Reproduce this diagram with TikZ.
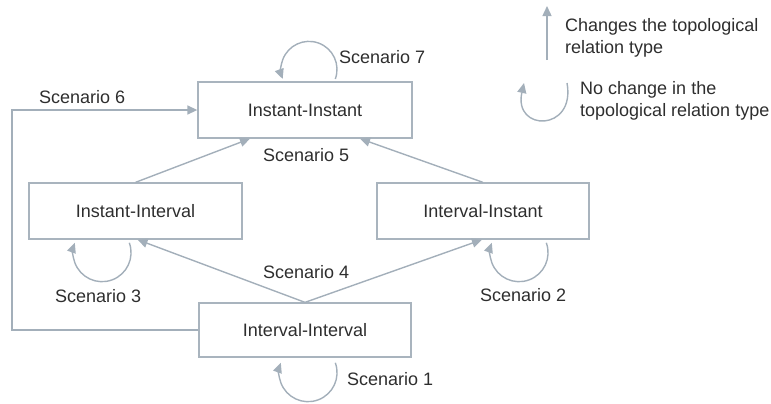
\documentclass[tikz,border=0pt]{standalone}
\usepackage{fontspec}
\setmainfont{Liberation Sans}
\usetikzlibrary{arrows.meta}
\definecolor{linec}{HTML}{A3AFBA}
\definecolor{boxc}{HTML}{A9B4BE}
\definecolor{txtc}{HTML}{2E2E2E}
\begin{document}
\begin{tikzpicture}[x=1bp,y=1bp,
  every node/.style={text=txtc,font=\fontsize{18bp}{22bp}\selectfont},
  statebox/.style={draw=boxc,line width=1.3bp,inner sep=0pt},
  arr/.style={draw=linec,line width=1.4bp,-{Triangle[length=10bp,width=9bp]}},
  lbl/.style={anchor=west,inner sep=0pt},
  legtext/.style={anchor=west,inner sep=0pt,align=left}]
\path[use as bounding box] (0,0) rectangle (771,-403);

\node[statebox,minimum width=214bp,minimum height=56bp] (II) at (305,-110) {Instant-Instant};
\node[statebox,minimum width=213bp,minimum height=56bp] (IInt) at (135.5,-211) {Instant-Interval};
\node[statebox,minimum width=212bp,minimum height=56bp] (IntI) at (483,-211) {Interval-Instant};
\node[statebox,minimum width=212bp,minimum height=54bp] (IntInt) at (305,-330) {Interval-Interval};

% Scenario 6
\coordinate (c6) at (12,-110);
\draw[arr] (IntInt.west) -| (c6) -- (II.west);
% Scenario 5
\draw[arr] (IInt.north) -- ([xshift=-55bp]II.south);
\draw[arr] (IntI.north) -- ([xshift=55bp]II.south);
% Scenario 4
\draw[arr] (IntInt.north) -- ([xshift=2bp]IInt.south);
\draw[arr] (IntInt.north) -- ([xshift=-1bp]IntI.south);
% self loops
\draw[arr] ([xshift=30.3bp,yshift=2.4bp]II.north) arc[start angle=-20,end angle=200,radius=28bp];
\draw[arr] ([xshift=-6.2bp,yshift=-3.1bp]IInt.south) arc[start angle=20,end angle=-200,radius=29bp];
\draw[arr] ([xshift=63.3bp,yshift=-3.1bp]IntI.south) arc[start angle=20,end angle=-200,radius=29bp];
\draw[arr] ([xshift=30.3bp,yshift=-5.1bp]IntInt.south) arc[start angle=20,end angle=-200,radius=29bp];

% labels
\node[lbl] (s7) at (339,-57) {Scenario 7};
\node[lbl] (s6) at (39,-97) {Scenario 6};
\node[lbl] (s5) at (263,-155) {Scenario 5};
\node[lbl] (s4) at (263,-272) {Scenario 4};
\node[lbl] (s3) at (55,-296) {Scenario 3};
\node[lbl] (s2) at (480,-295) {Scenario 2};
\node[lbl] (s1) at (347,-379) {Scenario 1};

% legend
\coordinate (l1s) at (547,-60);
\coordinate (l1e) at (547,-6);
\draw[arr] (l1s) -- (l1e);
\node[legtext] (lt1) at (565,-38) {Changes the topological\\relation type};
\coordinate (l2s) at (567,-83);
\coordinate (l2e) at (524,-83);
\draw[arr] (l2s) .. controls (576,-132) and (513,-132) .. (l2e);
\node[legtext] (lt2) at (580,-101) {No change in the\\topological relation type};
\end{tikzpicture}
\end{document}
